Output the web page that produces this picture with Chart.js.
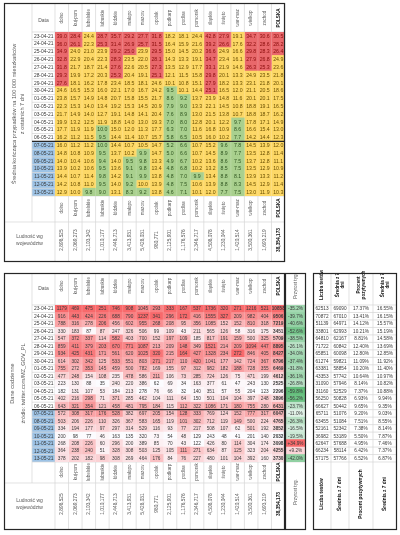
<!DOCTYPE html>
<html>
<head>
<meta charset="utf-8">
<script src="https://cdn.jsdelivr.net/npm/chart.js@4.4.0/dist/chart.umd.min.js"></script>
<style>
html,body{margin:0;padding:0;background:#fff;}
#wrap{position:relative;width:400px;height:535px;overflow:hidden;}
#wrap canvas{position:absolute;left:0;top:0;}
</style>
</head>
<body>
<div id="wrap">
<canvas id="avgChart"></canvas>
<canvas id="dailyChart"></canvas>
<canvas id="growthChart"></canvas>
<canvas id="testsChart"></canvas>
</div>
<script>
// data
const dates=['23-04-21','24-04-21','25-04-21','26-04-21','27-04-21','28-04-21','29-04-21','30-04-21','01-05-21','02-05-21','03-05-21',
  '04-05-21','05-05-21','06-05-21','07-05-21','08-05-21','09-05-21','10-05-21','11-05-21','12-05-21','13-05-21'];
const lastWeekFrom='07-05-21';
const regions=['dolno','kuj-pom','lubelskie','lubuskie','łódzkie','małopo','mazow','opolsk','podkarp','podlas','pomorsk','śląskie','święto','war-maz','wielkop','zachod','POLSKA'];
const population=['2,898,525','2,069,273','2,103,342','1,010,177','2,448,713','3,413,931','5,428,031','980,771','2,125,901','1,176,576','2,346,717','4,508,078','1,230,044','1,420,514','3,500,361','1,693,219','38,354,173'];

// 7-day average per 100k (one row per date)
const avg7=[
 [39.0,28.4,24.4,28.7,35.7,29.2,27.7,31.8,18.2,18.1,24.4,42.8,27.9,19.1,34.7,30.6,30.5],
 [36.0,26.1,22.3,25.3,31.4,26.9,25.7,31.5,16.4,15.9,21.6,39.2,26.6,17.6,32.2,28.6,28.2],
 [34.9,24.0,21.0,23.9,29.2,25.0,23.9,29.5,15.0,14.5,20.2,36.6,24.9,16.6,29.8,28.3,26.4],
 [32.8,22.9,20.4,22.3,28.3,23.5,22.0,28.1,14.3,13.3,19.1,34.7,23.4,16.1,27.9,26.8,24.9],
 [31.8,21.7,18.7,21.4,27.6,22.6,20.5,27.3,13.5,12.9,17.7,33.1,21.9,14.6,26.3,25.3,23.6],
 [29.3,19.9,17.2,20.3,25.3,20.4,19.1,25.1,12.1,11.5,15.8,29.8,20.1,13.3,24.9,23.5,21.8],
 [27.6,18.1,16.2,17.8,23.4,18.5,18.1,24.6,10.1,10.8,15.1,27.9,18.2,13.3,23.1,21.8,20.1],
 [24.6,16.5,15.3,16.0,22.1,17.0,16.7,24.2,9.5,10.1,14.4,25.1,16.5,12.0,21.1,20.5,18.6],
 [23.8,15.7,14.9,14.8,20.7,15.8,15.5,21.7,8.6,9.2,13.7,23.9,14.8,11.6,20.1,20.1,17.5],
 [22.3,15.3,14.0,13.4,19.2,15.3,14.5,20.9,7.9,9.0,13.3,22.1,14.5,10.8,18.8,19.1,16.5],
 [21.7,14.9,14.0,12.7,19.1,14.8,14.1,20.4,7.6,8.9,13.0,21.5,13.8,10.7,18.8,18.7,16.2],
 [19.9,13.2,12.5,11.9,18.8,14.0,13.0,19.3,7.0,8.0,12.8,20.1,12.2,9.7,17.8,17.1,14.9],
 [17.7,11.9,11.9,9.98,15.0,12.0,11.3,17.7,6.3,7.0,11.6,16.8,10.9,8.6,16.6,15.4,13.0],
 [16.2,11.2,11.5,9.5,14.4,11.4,10.7,15.7,5.8,6.5,10.5,16.0,10.2,7.7,14.2,14.4,12.3],
 [16.0,11.2,11.2,9.96,14.4,10.7,10.5,14.7,5.2,6.6,10.7,15.2,9.6,7.8,14.5,13.9,12.0],
 [14.8,10.8,10.9,9.5,13.7,10.2,9.9,14.7,5.0,6.6,10.7,14.5,8.9,7.7,13.5,12.8,11.4],
 [14.0,10.4,10.6,9.4,14.0,9.5,9.8,13.3,4.9,6.7,10.2,13.6,8.6,7.5,13.7,12.8,11.1],
 [13.9,10.2,10.6,9.5,13.6,9.1,9.8,13.4,4.8,6.8,10.2,13.2,8.5,7.5,13.5,12.9,10.9],
 [14.4,10.7,11.4,9.8,14.2,9.1,9.9,13.8,4.8,7.0,9.9,13.4,8.8,8.1,13.9,13.3,11.2],
 [14.2,10.8,11.0,9.5,14.0,9.2,10.0,13.9,4.8,7.5,10.6,13.9,8.8,8.3,14.5,12.9,11.4],
 [12.9,10.0,9.8,9.0,13.1,8.3,9.2,13.8,4.6,7.1,10.1,12.0,7.7,7.5,13.0,11.9,10.3]
];

// daily new cases (one row per date)
const daily=[
 [1179,469,475,251,746,908,1045,293,333,167,537,1736,320,271,1216,521,10858],
 [916,443,424,226,688,790,1237,341,296,172,416,1555,327,209,982,404,9506],
 [788,316,278,206,456,602,955,268,208,95,356,1085,152,152,810,318,7219],
 [330,183,87,87,247,326,506,99,109,43,211,565,126,58,316,175,3451],
 [547,372,337,114,582,403,700,152,197,109,185,817,191,159,500,325,5709],
 [859,411,379,203,670,771,1087,213,209,148,349,1521,214,209,1094,447,8895],
 [934,425,431,171,561,620,1025,320,215,164,427,1328,234,272,846,405,8427],
 [614,302,342,125,533,551,803,271,217,110,420,1041,177,142,724,367,6796],
 [755,272,353,145,459,500,782,169,155,97,312,982,182,188,728,355,6469],
 [477,248,154,108,235,478,586,211,106,73,285,724,126,75,471,199,4612],
 [223,130,88,35,240,220,386,62,69,34,163,377,61,47,243,130,2525],
 [182,131,107,53,184,213,278,76,66,32,140,351,57,55,204,123,2296],
 [402,216,298,71,371,285,462,104,111,64,150,501,104,104,397,248,3896],
 [643,321,354,121,458,481,795,184,115,112,322,1086,171,180,755,280,6431],
 [572,308,317,176,528,382,697,205,154,128,333,769,124,152,777,317,6047],
 [503,206,226,110,326,367,583,165,119,101,302,712,119,149,500,224,4765],
 [334,194,177,97,297,314,529,116,93,77,217,508,107,62,501,192,3852],
 [200,98,77,46,163,135,320,73,54,48,129,243,48,41,201,140,2032],
 [268,208,226,60,296,200,389,85,70,43,122,426,80,114,304,174,3098],
 [364,238,240,51,328,308,503,125,105,111,271,634,87,125,323,204,4255],
 [378,202,182,98,308,269,464,176,84,76,227,480,101,104,392,160,3730]
];

// week-on-week change of POLSKA, %
const growth=[-35.2,-39.7,-40.6,-52.6,-38.5,-26.1,-34.0,-37.4,-31.8,-36.1,-26.8,-59.8,-56.2,-23.7,-11.0,-26.3,-16.5,-19.5,34.9,9.2,-42.0];

const testHeads=[['Liczba testów'],['Średnia z 7','dni'],['Procent','pozytywnych'],['Średnia z 7','dni']];
const testFoot=['Liczba testów','Średnia z 7 dni','Procent pozytywnych','Średnia z 7 dni'];
const tests=[62513,70872,51139,33801,64810,71722,65851,61274,63381,43353,31090,31160,56250,66627,65711,63455,52161,36982,62647,66234,57175];
const testsAvg=[69090,67010,64971,62993,62167,60842,60098,59821,58854,57742,57946,52529,50828,50442,51076,51084,52342,53189,57688,58114,57766];
const posPct=[17.37,13.41,14.12,10.21,8.81,12.40,12.80,11.09,10.20,10.64,8.14,7.37,6.93,9.65,9.20,7.51,7.38,5.50,4.95,6.42,6.52];
const posAvg=[16.55,16.15,15.57,15.19,14.58,13.69,12.85,11.92,11.40,10.97,10.82,10.88,9.94,9.35,9.03,8.55,8.14,7.87,7.46,7.37,6.87];

const C={red:'#e9686b',redInk:'#8a0d0d',yellow:'#fdd866',yellowInk:'#6b5000',green:'#a9d08e',greenInk:'#2f5520',
  blue:'#9dc3e6',grid:'#d6d6d6',frame:'#262626',ink:'#3b3b3b',soft:'#595959',white:'#fcfcff',hot:'#f8696b',cool:'#63be7b'};
const FAM='"Liberation Sans", Arial, sans-serif';
Chart.defaults.font.family=FAM;
const hiFrom=dates.indexOf(lastWeekFrom);

function font(px,bold){return (bold?'bold ':'')+px+'px '+FAM;}
function rgb(h){return [1,3,5].map(k=>parseInt(h.slice(k,k+2),16));}
function mix(a,b,t){const A=rgb(a),B=rgb(b);return 'rgb('+A.map((v,k)=>Math.round(v+(B[k]-v)*t)).join(',')+')';}
function seg(ctx,x1,y1,x2,y2){ctx.beginPath();ctx.moveTo(x1,y1);ctx.lineTo(x2,y2);ctx.stroke();}
function txt(ctx,s,x,y,f,c,align,rot){
  ctx.save();ctx.translate(x,y);if(rot)ctx.rotate(-Math.PI/2);
  ctx.font=f;ctx.fillStyle=c;ctx.textAlign=align||'center';ctx.textBaseline='middle';ctx.fillText(s,0,0);ctx.restore();
}
function rowH(y){return (y.bottom-y.top)/dates.length;}

function avgFill(v){return v>=25?C.red:(v<10?C.green:C.yellow);}
function avgInk(v){return v>=25?C.redInk:(v<10?C.greenInk:C.yellowInk);}
const colMin=regions.map((_,j)=>Math.min(...daily.map(r=>r[j])));
const colMax=regions.map((_,j)=>Math.max(...daily.map(r=>r[j])));
function dailyFill(i,j){const v=daily[i][j];return mix(C.white,C.hot,(v-colMin[j])/(colMax[j]-colMin[j]));}
const gMin=Math.min(...growth),gMax=Math.max(...growth);
function growthFill(v){return v<0?mix(C.white,C.cool,v/gMin):mix(C.white,C.hot,v/gMax);}

// geometry of each block (page pixels)
const G1={x0:4,x1:285,y0:3,top:32,bottom:196,names:222,y1:262,titleR:32,left:55,hdrY:18,nameY:208,popY:240,
  title:['Średnia kończąca przypadków na 100 000 mieszkańców','z ostatnich 7 dni'],titleX:[14,22]};
const G2={x0:4,x1:285,y0:273,top:305,bottom:462,names:483,y1:530,titleR:32,left:55,hdrY:286,nameY:472,popY:504,
  title:['Dane codzienne','źródło: twitter.com/MZ_GOV_PL'],titleX:[12,23]};
const G3={x0:285,x1:306,y0:273,top:305,bottom:462,y1:530,hdrY:286,footY:492};
const G4={x0:313,x1:397,y0:273,top:305,bottom:462,names:483,y1:530,hdrY:285,footY:494};
const testEdges=[0,18,36,60,84];

function build(id,g,nCols,fill,plugin,edges){
  const el=document.getElementById(id);el.width=400;el.height=535;
  const datasets=[];
  for(let j=0;j<nCols;j++){
    const a=edges?edges[j]:j,b=edges?edges[j+1]:j+1;
    datasets.push({data:dates.map(()=>[a,b]),backgroundColor:dates.map((_,i)=>fill(i,j)),borderWidth:0,
      barPercentage:1,categoryPercentage:1,grouped:false});
  }
  const right=g.left!==undefined?g.x1:g.x1;
  const left=g.left!==undefined?g.left:g.x0;
  return new Chart(el,{type:'bar',data:{labels:dates,datasets},
    options:{indexAxis:'y',responsive:false,animation:false,events:[],
      layout:{padding:{left:left,right:400-right,top:g.top,bottom:535-g.bottom}},
      plugins:{legend:{display:false},tooltip:{enabled:false}},
      scales:{x:{type:'linear',min:0,max:edges?edges[edges.length-1]:nCols,display:false},y:{display:false}}},
    plugins:[plugin]});
}

// the two big region tables share one drawing routine
function regionTable(g,values,fmt,ink,fs){
  const m=regions.length;
  return {id:'regionTable',
    beforeDatasetsDraw(chart){
      const {ctx,scales:{x,y}}=chart,rh=rowH(y);
      ctx.save();
      for(let i=hiFrom;i<dates.length;i++){ctx.fillStyle=C.blue;ctx.fillRect(g.titleR,y.getPixelForValue(i)-rh/2,x.left-g.titleR,rh);}
      ctx.strokeStyle=C.grid;ctx.lineWidth=0.7;
      for(let j=0;j<=m;j++){const px=x.getPixelForValue(j);seg(ctx,px,g.y0,px,g.y1);}
      seg(ctx,g.titleR,g.y0,g.titleR,g.names);
      for(let i=0;i<=dates.length;i++){const py=y.top+i*rh;seg(ctx,g.titleR,py,x.right,py);}
      seg(ctx,g.x0,g.names,g.x1,g.names);
      ctx.restore();
    },
    afterDatasetsDraw(chart){
      const {ctx,scales:{x,y}}=chart,rh=rowH(y);
      ctx.save();
      ctx.strokeStyle='rgba(255,255,255,0.35)';ctx.lineWidth=0.5;
      for(let j=1;j<m;j++){const px=x.getPixelForValue(j);seg(ctx,px,y.top,px,y.bottom);}
      values.forEach((row,i)=>row.forEach((v,j)=>{
        txt(ctx,fmt(v),x.getPixelForValue(j+0.5),y.getPixelForValue(i)+0.4,font(fs,j===m-1&&values===daily),ink(v,j));
      }));
      dates.forEach((d,i)=>txt(ctx,d,x.left-1.5,y.getPixelForValue(i)+0.4,font(4.9),C.ink,'right'));
      txt(ctx,'Data',(g.titleR+x.left)/2,g.hdrY+3,font(5),C.soft);
      regions.forEach((r,j)=>{
        const cx=x.getPixelForValue(j+0.5),b=j===m-1;
        txt(ctx,r,cx,g.hdrY,font(4.6,b),b?'#111':C.soft,'center',true);
        txt(ctx,r,cx,g.nameY,font(4.6,b),b?'#111':C.soft,'center',true);
        txt(ctx,population[j],cx,g.popY,font(4.8,b),b?'#111':C.soft,'center',true);
      });
      const lx=(g.x0+x.left)/2;
      txt(ctx,'Ludność wg',lx,g.popY-3,font(5),C.soft);
      txt(ctx,'województw',lx,g.popY+3.5,font(5),C.soft);
      const cy=(y.top+y.bottom)/2;
      g.title.forEach((t,k)=>txt(ctx,t,g.titleX[k],cy,font(5.6),C.soft,'center',true));
      ctx.strokeStyle=C.frame;ctx.lineWidth=1.3;
      const sy=y.getPixelForValue(hiFrom)-rh/2;
      seg(ctx,g.titleR,sy,x.right,sy);
      ctx.lineWidth=1.2;
      ctx.strokeRect(g.x0+0.5,g.y0+0.5,g.x1-g.x0-1,g.y1-g.y0-1);
      ctx.restore();
    }};
}

build('avgChart',G1,regions.length,(i,j)=>avgFill(avg7[i][j]),
  regionTable(G1,avg7,v=>v.toFixed(1),v=>avgInk(v),5.2));
build('dailyChart',G2,regions.length,dailyFill,
  regionTable(G2,daily,v=>String(v),()=>C.ink,4.7));

build('growthChart',G3,1,i=>growthFill(growth[i]),{id:'growth',
  beforeDatasetsDraw(chart){
    const {ctx,scales:{x,y}}=chart,rh=rowH(y);
    ctx.save();ctx.strokeStyle=C.grid;ctx.lineWidth=0.7;
    for(let i=0;i<=dates.length;i++){const py=y.top+i*rh;seg(ctx,G3.x0,py,G3.x1,py);}
    ctx.restore();
  },
  afterDatasetsDraw(chart){
    const {ctx,scales:{x,y}}=chart;
    ctx.save();
    growth.forEach((v,i)=>txt(ctx,(v>0?'+':'')+v.toFixed(1)+'%',x.getPixelForValue(0.5),y.getPixelForValue(i)+0.4,font(4.7),C.ink));
    txt(ctx,'Przyrost tyg.',x.getPixelForValue(0.5),G3.hdrY,font(4.6),C.soft,'center',true);
    txt(ctx,'Przyrost tyg.',x.getPixelForValue(0.5),G3.footY,font(4.6),C.soft,'center',true);
    ctx.strokeStyle=C.frame;ctx.lineWidth=1.2;
    ctx.strokeRect(G3.x0+0.5,G3.y0+0.5,G3.x1-G3.x0-1,G3.y1-G3.y0-1);
    ctx.restore();
  }});

const testCols=[tests.map(String),testsAvg.map(String),posPct.map(v=>v.toFixed(2)+'%'),posAvg.map(v=>v.toFixed(2)+'%')];
build('testsChart',G4,4,()=>'#ffffff',{id:'tests',
  beforeDatasetsDraw(){},
  afterDatasetsDraw(chart){
    const {ctx,scales:{x,y}}=chart,rh=rowH(y);
    ctx.save();ctx.strokeStyle=C.grid;ctx.lineWidth=0.7;
    for(let i=0;i<=dates.length;i++){const py=y.top+i*rh;seg(ctx,G4.x0,py,G4.x1,py);}
    for(let j=1;j<4;j++){const px=x.getPixelForValue(testEdges[j]);seg(ctx,px,G4.y0,px,G4.y1);}
    testCols.forEach((col,j)=>{
      const cx=x.getPixelForValue((testEdges[j]+testEdges[j+1])/2);
      col.forEach((s,i)=>txt(ctx,s,cx,y.getPixelForValue(i)+0.4,font(4.7),C.ink));
      const h=testHeads[j];
      h.forEach((t,k)=>txt(ctx,t,cx+(k-(h.length-1)/2)*5.5,G4.hdrY,font(4.6,true),'#111','center',true));
      txt(ctx,testFoot[j],cx,G4.footY,font(4.8,true),'#111','center',true);
    });
    ctx.strokeStyle=C.frame;ctx.lineWidth=1.2;
    ctx.strokeRect(G4.x0+0.5,G4.y0+0.5,G4.x1-G4.x0-1,G4.y1-G4.y0-1);
    ctx.restore();
  }},testEdges);
</script>
</body>
</html>
